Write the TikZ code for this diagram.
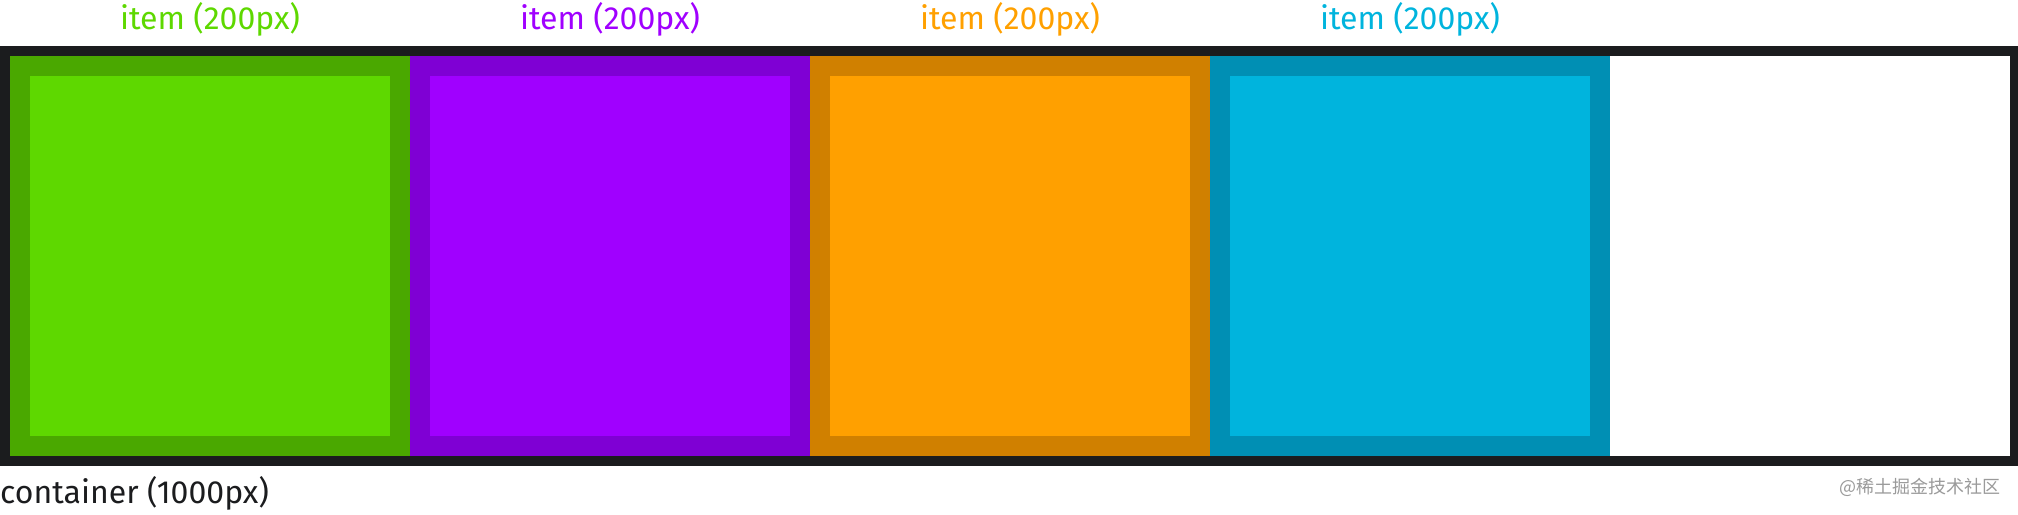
\documentclass[tikz,border=0pt]{standalone}
\usepackage{fontspec}
\setmainfont{Fira Sans}
\newfontfamily\cjk{Noto Sans CJK SC}
\definecolor{frameC}{HTML}{1B1C1E}
\definecolor{gOut}{HTML}{4AA800}
\definecolor{gIn}{HTML}{5ED800}
\definecolor{pOut}{HTML}{7F00D4}
\definecolor{pIn}{HTML}{A000FF}
\definecolor{oOut}{HTML}{D08000}
\definecolor{oIn}{HTML}{FFA000}
\definecolor{bOut}{HTML}{008FB4}
\definecolor{bIn}{HTML}{00B4DD}
\definecolor{wmC}{HTML}{9A9A9A}
\tikzset{
  lbl/.style={inner sep=0pt, anchor=base, font=\fontsize{32}{38}\selectfont},
  itemframe/.style={fill=#1},
}
\begin{document}
\begin{tikzpicture}[x=1pt,y=-1pt]
\useasboundingbox (0,0) rectangle (2018,514);
% container
\fill[frameC] (0,46) rectangle (2018,466);
\fill[white] (10,56) rectangle (2010,456);
% items
\foreach \i/\o/\n in {0/gOut/gIn,1/pOut/pIn,2/oOut/oIn,3/bOut/bIn}{
  \fill[\o] ({10+400*\i},56) rectangle ({410+400*\i},456);
  \fill[\n] ({30+400*\i},76) rectangle ({390+400*\i},436);
}
% labels
\node[lbl, text=gIn] (l1) at (210,29) {item (200px)};
\node[lbl, text=pIn] (l2) at (610,29) {item (200px)};
\node[lbl, text=oIn] (l3) at (1010,29) {item (200px)};
\node[lbl, text=bIn] (l4) at (1410,29) {item (200px)};
\node[lbl, anchor=base west, text=frameC] (cl) at (0,503) {container (1000px)};
\node[inner sep=0pt, anchor=base east, text=wmC, font=\cjk\fontsize{18}{22}\selectfont] (wm) at (2001,493) {@稀土掘金技术社区};
\end{tikzpicture}
\end{document}
